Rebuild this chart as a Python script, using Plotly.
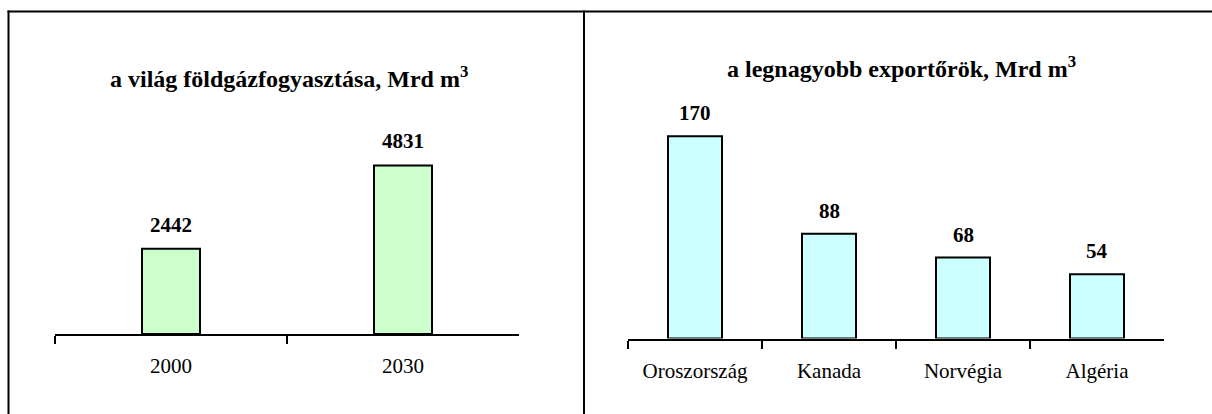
import plotly.graph_objects as go

# ---- data ----
years = ["2000", "2030"]
consumption = [2442, 4831]
countries = ["Oroszország", "Kanada", "Norvégia", "Algéria"]
exports = [170, 88, 68, 54]
title_left = "a világ földgázfogyasztása, Mrd m<sup>3</sup>"
title_right = "a legnagyobb exportőrök, Mrd m<sup>3</sup>"

W, H = 1212, 414
FONT = "Liberation Serif"


def px(x):
    return x / W


def py(y):
    return 1 - y / H


fig = go.Figure()
fig.add_trace(go.Bar(
    x=years, y=consumption, xaxis="x", yaxis="y", width=0.25,
    marker=dict(color="#CCFFCC", line=dict(color="black", width=2)),
    hoverinfo="x+y",
))
fig.add_trace(go.Bar(
    x=countries, y=exports, xaxis="x2", yaxis="y2", width=0.403,
    marker=dict(color="#CCFFFF", line=dict(color="black", width=2)),
    hoverinfo="x+y",
))

bold = dict(family=FONT, size=21, color="black", weight="bold")
annotations = []
for i, v in enumerate(consumption):
    annotations.append(dict(x=i, y=v, xref="x", yref="y", text=str(v),
                            showarrow=False, yanchor="middle", yshift=24,
                            font=bold))
for i, v in enumerate(exports):
    annotations.append(dict(x=i, y=v, xref="x2", yref="y2", text=str(v),
                            showarrow=False, yanchor="middle", yshift=23,
                            font=bold))
annotations.append(dict(x=px(289), y=py(77), xref="paper", yref="paper",
                        text=title_left, showarrow=False,
                        xanchor="center", yanchor="middle",
                        font=dict(family=FONT, size=24, color="black", weight="bold")))
annotations.append(dict(x=px(901), y=py(67), xref="paper", yref="paper",
                        text=title_right, showarrow=False,
                        xanchor="center", yanchor="middle",
                        font=dict(family=FONT, size=24, color="black", weight="bold")))

xcommon = dict(type="category", showline=True, linecolor="black", linewidth=2,
               ticks="outside", tickson="boundaries", ticklen=8, tickwidth=2,
               tickcolor="black", showgrid=False, zeroline=False,
               tickfont=dict(family=FONT, size=21, color="black"),
               ticklabelstandoff=12, fixedrange=True, tickangle=0)
ycommon = dict(showline=False, showgrid=False, zeroline=False,
               showticklabels=False, ticks="", fixedrange=True)

base_l = 334
scale_l = 0.0349
base_r = 338.5
scale_r = 1.19

fig.update_layout(
    width=W, height=H,
    margin=dict(l=0, r=0, t=0, b=0),
    paper_bgcolor="white", plot_bgcolor="white",
    showlegend=False,
    xaxis=dict(domain=[px(55), px(519)], anchor="y", range=[-0.5, 1.5], **xcommon),
    yaxis=dict(domain=[py(base_l), py(base_l - 6000 * scale_l)], range=[0, 6000],
               anchor="x", **ycommon),
    xaxis2=dict(domain=[px(628), px(1164)], anchor="y2", range=[-0.5, 3.5], **xcommon),
    yaxis2=dict(domain=[py(base_r), py(base_r - 200 * scale_r)], range=[0, 200],
                anchor="x2", **ycommon),
    annotations=annotations,
    shapes=[
        dict(type="line", xref="paper", yref="paper", x0=px(8.5), x1=px(8.5),
             y0=py(10.5), y1=-0.2, line=dict(color="black", width=2)),
        dict(type="line", xref="paper", yref="paper", x0=px(7.5), x1=1.2,
             y0=py(11.5), y1=py(11.5), line=dict(color="black", width=2)),
        dict(type="line", xref="paper", yref="paper", x0=px(584), x1=px(584),
             y0=py(10.5), y1=-0.2, line=dict(color="black", width=2)),
    ],
)

fig.write_html("out.html", config={"displayModeBar": False},
               post_script="document.body.style.margin='0';")
